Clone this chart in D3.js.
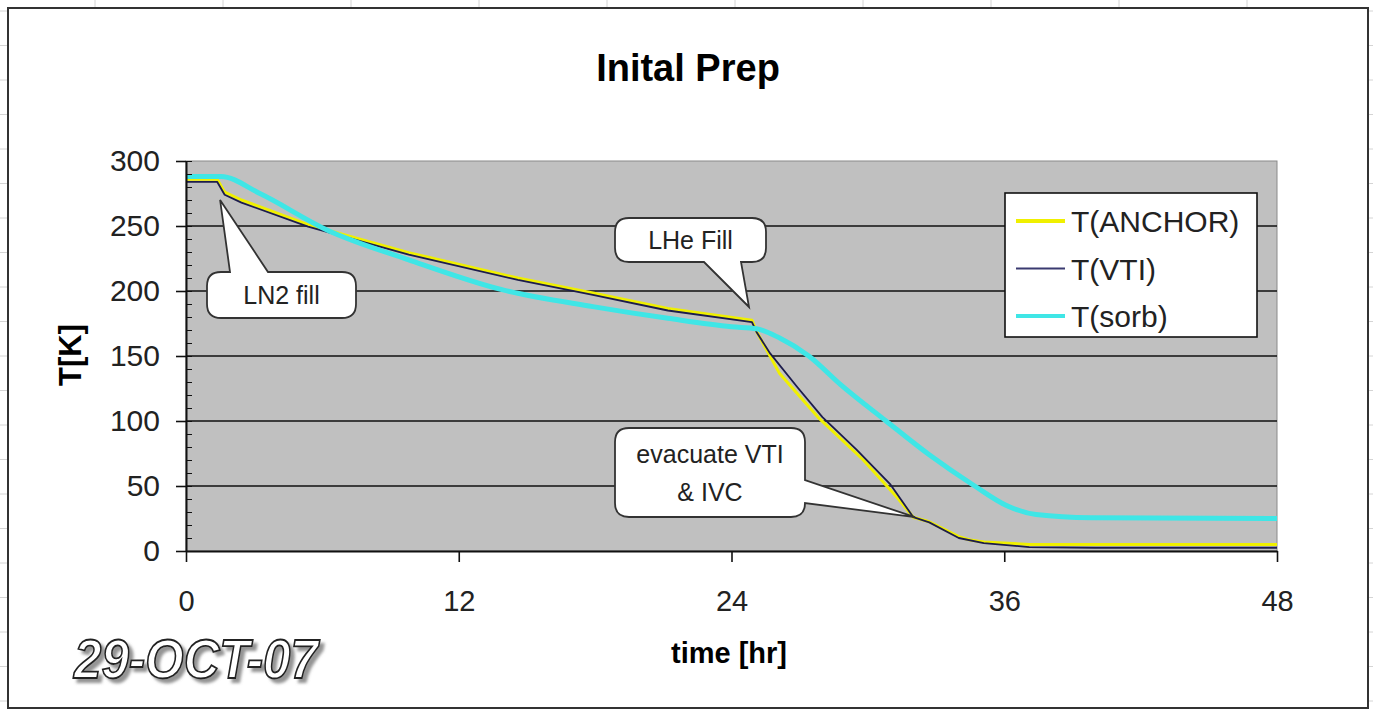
<!DOCTYPE html>
<html>
<head>
<meta charset="utf-8">
<script src="https://cdn.jsdelivr.net/npm/d3@7"></script>
<style>
  body { margin: 0; background: #fff; }
  svg { display: block; font-family: "Liberation Sans", Arial, sans-serif; }
</style>
</head>
<body>
<div id="chart"></div>
<script>
// data (time in hr, temperature in K)
const timeAnchor = [0, 1.37, 1.7, 2.44, 5.37, 9.8, 14.6, 17.9, 21.2, 24.9, 25.1, 26.1, 27.8, 29.8, 31.3, 32.0, 32.7, 34.0, 34.5, 35.1, 37.1, 48];
const tempAnchor = [286, 286, 276, 270, 251, 229.5, 210, 198.5, 186.5, 177.5, 169, 137, 103, 70, 41, 26, 22.5, 11, 8.5, 7, 5, 5];

const timeVTI = [0, 1.37, 1.7, 2.44, 5.37, 9.8, 14.6, 17.9, 21.2, 24.9, 25.1, 25.7, 26.9, 28.0, 29.5, 31.0, 32.0, 32.7, 34.0, 35.1, 37.1, 40, 48];
const tempVTI = [284, 284, 274, 268, 249.5, 228, 208.5, 197, 185, 176, 168.5, 152, 126, 103, 78, 51, 26, 22, 10, 6, 3, 2.5, 2.5];

const timeSorb = [0, 1.54, 3.25, 6.2, 9.8, 13.9, 17.9, 21.2, 24, 25.1, 26.1, 27.4, 28.8, 30.8, 32.7, 34.7, 36.1, 37.4, 39.8, 48];
const tempSorb = [288, 288, 275, 247, 224, 201, 188, 179, 172.5, 171, 164, 150, 128, 100, 74, 50, 35, 28, 25.5, 25];

const seriesNames = ["T(ANCHOR)", "T(VTI)", "T(sorb)"];
const xTicks = [0, 12, 24, 36, 48];
const yTicks = [0, 50, 100, 150, 200, 250, 300];

// callouts: text lines and the point each one points at
const noteText = [["LN2 fill"], ["LHe Fill"], ["evacuate VTI", "& IVC"]];
const noteTime = [1.5, 24.77, 32.07];
const noteTemp = [270, 187.7, 26];

const W = 1373, H = 712;
const svg = d3.select("#chart").append("svg")
    .attr("width", W)
    .attr("height", H);

const defs = svg.append("defs");
defs.append("filter")
    .attr("id", "stampShadow")
    .attr("x", "-10%").attr("y", "-30%").attr("width", "130%").attr("height", "170%")
  .append("feDropShadow")
    .attr("dx", 4).attr("dy", 4)
    .attr("stdDeviation", 1.5)
    .attr("flood-color", "#888")
    .attr("flood-opacity", 0.9);

// faint spreadsheet grid peeking out round the chart
const sheet = svg.append("g").attr("stroke", "#d4d4d4").attr("stroke-width", 1);
d3.range(95, W, 128).forEach(gx => {
  sheet.append("line").attr("x1", gx).attr("x2", gx).attr("y1", 0).attr("y2", 7);
});
d3.range(11, H, 34.5).forEach(gy => {
  sheet.append("line").attr("x1", 0).attr("x2", 7).attr("y1", gy).attr("y2", gy);
  sheet.append("line").attr("x1", 1369).attr("x2", W).attr("y1", gy).attr("y2", gy);
});

// chart area border
svg.append("rect")
    .attr("x", 8).attr("y", 8)
    .attr("width", 1360).attr("height", 700)
    .attr("fill", "#fff")
    .attr("stroke", "#333")
    .attr("stroke-width", 2);

const x = d3.scaleLinear().domain([0, 48]).range([186, 1277]);
const y = d3.scaleLinear().domain([0, 300]).range([551, 161]);

// plot area
svg.append("rect")
    .attr("x", x(0)).attr("y", y(300))
    .attr("width", x(48) - x(0)).attr("height", y(0) - y(300))
    .attr("fill", "#c0c0c0")
    .attr("stroke", "#8a8a8a")
    .attr("stroke-width", 1);

// horizontal gridlines
svg.append("g")
  .selectAll("line")
  .data(yTicks.filter(d => d > 0 && d < 300))
  .enter()
  .append("line")
    .attr("x1", x(0)).attr("x2", x(48))
    .attr("y1", d => y(d)).attr("y2", d => y(d))
    .attr("stroke", "#111")
    .attr("stroke-width", 1.6);

// series lines
const colors = ["#f0f000", "#1c1c4c", "#3fe6e6"];
const widths = [3, 1.8, 5];
const lineData = [
  timeAnchor.map((t, i) => [t, tempAnchor[i]]),
  timeVTI.map((t, i) => [t, tempVTI[i]]),
  timeSorb.map((t, i) => [t, tempSorb[i]])
];
const curves = [d3.curveLinear, d3.curveLinear, d3.curveMonotoneX];

lineData.forEach((pts, k) => {
  const line = d3.line()
    .x(d => x(d[0]))
    .y(d => y(d[1]))
    .curve(curves[k]);
  svg.append("path")
      .datum(pts)
      .attr("fill", "none")
      .attr("stroke", colors[k])
      .attr("stroke-width", widths[k])
      .attr("stroke-linejoin", "round")
      .attr("d", line);
});

// axes
const xAxis = svg.append("g")
    .attr("transform", "translate(0," + y(0) + ")")
    .call(d3.axisBottom(x).tickValues(xTicks).tickSize(11).tickPadding(28).tickSizeOuter(0));
const yAxis = svg.append("g")
    .attr("transform", "translate(" + x(0) + ",0)")
    .call(d3.axisLeft(y).tickValues(yTicks).tickSize(10).tickPadding(16).tickSizeOuter(0));
// minor ticks inside the plot
svg.append("g")
    .attr("transform", "translate(" + x(0) + ",0)")
    .call(d3.axisRight(y).tickValues(d3.range(0, 301, 10)).tickSize(6).tickFormat("").tickSizeOuter(0))
    .call(g => g.select(".domain").remove());

[xAxis, yAxis].forEach(g => {
  g.select(".domain").attr("stroke", "#111").attr("stroke-width", 2);
  g.selectAll(".tick line").attr("stroke", "#111").attr("stroke-width", 1.6);
  g.selectAll("text")
    .attr("fill", "#222")
    .style("font-size", "29px")
    .style("font-family", "'Liberation Sans', Arial, sans-serif");
});
yAxis.selectAll("text").style("font-size", "30px");
svg.selectAll(".tick line").attr("stroke", "#111");

// titles
svg.append("text")
    .attr("x", 688).attr("y", 81)
    .attr("text-anchor", "middle")
    .style("font-size", "38px")
    .style("font-weight", "bold")
    .text("Inital Prep");

svg.append("text")
    .attr("x", 729).attr("y", 663)
    .attr("text-anchor", "middle")
    .style("font-size", "29px")
    .style("font-weight", "bold")
    .text("time [hr]");

svg.append("text")
    .attr("transform", "translate(81,355) rotate(-90)")
    .attr("text-anchor", "middle")
    .style("font-size", "31px")
    .style("font-weight", "bold")
    .text("T[K]");

// legend
const legend = svg.append("g");
legend.append("rect")
    .attr("x", 1005).attr("y", 193)
    .attr("width", 252).attr("height", 144)
    .attr("fill", "#fff")
    .attr("stroke", "#111")
    .attr("stroke-width", 1.6);
seriesNames.forEach((name, i) => {
  const ly = 221 + i * 47.5;
  legend.append("line")
      .attr("x1", 1016).attr("x2", 1065)
      .attr("y1", ly).attr("y2", ly)
      .attr("stroke", i == 1 ? "#3a3a70" : colors[i])
      .attr("stroke-width", i == 1 ? 2 : 4);
  legend.append("text")
      .attr("x", 1071).attr("y", ly + 11)
      .attr("fill", "#222")
      .style("font-size", "30px")
      .text(name);
});

// callout boxes (layout in px), pointer base along one side
const noteBox = [
  { x: 207, y: 272, w: 149, h: 46, side: "top", b: [230, 268] },
  { x: 615, y: 218, w: 151, h: 44, side: "bottom", b: [741, 704] },
  { x: 615, y: 428, w: 190, h: 89, side: "right", b: [480, 503] }
];

function calloutPath(bx, tx, ty) {
  const r = 14, x0 = bx.x, y0 = bx.y, x1 = bx.x + bx.w, y1 = bx.y + bx.h;
  let p = "M" + (x0 + r) + "," + y0;
  if (bx.side == "top") p += "L" + bx.b[0] + "," + y0 + "L" + tx + "," + ty + "L" + bx.b[1] + "," + y0;
  p += "L" + (x1 - r) + "," + y0 + "Q" + x1 + "," + y0 + " " + x1 + "," + (y0 + r);
  if (bx.side == "right") p += "L" + x1 + "," + bx.b[0] + "L" + tx + "," + ty + "L" + x1 + "," + bx.b[1];
  p += "L" + x1 + "," + (y1 - r) + "Q" + x1 + "," + y1 + " " + (x1 - r) + "," + y1;
  if (bx.side == "bottom") p += "L" + bx.b[0] + "," + y1 + "L" + tx + "," + ty + "L" + bx.b[1] + "," + y1;
  p += "L" + (x0 + r) + "," + y1 + "Q" + x0 + "," + y1 + " " + x0 + "," + (y1 - r);
  p += "L" + x0 + "," + (y0 + r) + "Q" + x0 + "," + y0 + " " + (x0 + r) + "," + y0 + "Z";
  return p;
}

noteBox.forEach((bx, i) => {
  const tx = x(noteTime[i]), ty = y(noteTemp[i]);
  svg.append("path")
      .attr("d", calloutPath(bx, tx, ty))
      .attr("fill", "#fff")
      .attr("stroke", "#333")
      .attr("stroke-width", 1.8)
      .attr("stroke-linejoin", "miter");
  const lines = noteText[i];
  const cx = bx.x + bx.w / 2;
  const lh = 38;
  const cy = bx.y + bx.h / 2 - (lines.length - 1) * lh / 2;
  lines.forEach((t, j) => {
    svg.append("text")
        .attr("x", cx).attr("y", cy + j * lh + 9)
        .attr("text-anchor", "middle")
        .attr("fill", "#222")
        .style("font-size", "25px")
        .text(t);
  });
});

// date stamp in outlined word-art style
svg.append("text")
    .attr("x", 74).attr("y", 678)
    .attr("textLength", 244).attr("lengthAdjust", "spacingAndGlyphs")
    .attr("fill", "#fff")
    .attr("stroke", "#222")
    .attr("stroke-width", 1.8)
    .attr("filter", "url(#stampShadow)")
    .style("font-size", "56px").style("font-weight", "bold").style("font-style", "italic")
    .text("29-OCT-07");
</script>
</body>
</html>
